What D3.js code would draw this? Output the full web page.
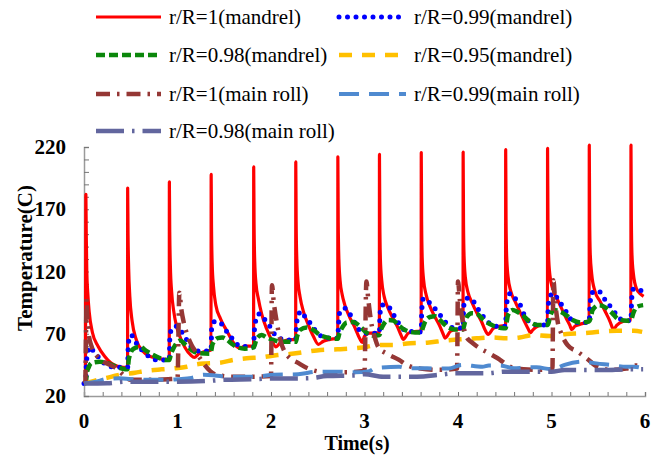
<!DOCTYPE html>
<html>
<head>
<meta charset="utf-8">
<script src="https://cdn.jsdelivr.net/npm/d3@7/dist/d3.min.js"></script>
<style>
  html, body { margin: 0; padding: 0; background: #fff; }
  svg { display: block; }
  text { font-family: "Liberation Serif", "Times New Roman", serif; fill: #000; }
</style>
</head>
<body>
<svg id="chart" width="661" height="459"></svg>
<script>
// Surface temperature histories (time in s, temperature in C)
const mandrel100 = [
  [0,30],[0.015,32],
  [0.02,182],[0.024,150],[0.03,120],[0.04,103],[0.055,88],[0.09,71],[0.15,60],[0.22,52],[0.29,46.5],[0.35,44],[0.42,43],[0.466,43],
  [0.467,187],[0.471,150],[0.478,122],[0.49,100],[0.515,80],[0.56,65],[0.63,56],[0.7,52],[0.78,50.5],[0.86,49.5],[0.912,49.5],
  [0.913,192],[0.917,152],[0.924,124],[0.937,104],[0.96,88],[0.99,76],[1.03,67],[1.08,59],[1.14,53],[1.18,51],[1.23,54],[1.3,56],[1.359,57],
  [1.36,198],[1.364,155],[1.371,126],[1.385,108],[1.41,93],[1.46,82],[1.53,72],[1.58,65],[1.63,60],[1.67,58.5],[1.72,60],[1.814,60],
  [1.815,204],[1.819,158],[1.826,128],[1.84,110],[1.865,98],[1.9,86],[1.953,74],[2.007,65],[2.053,59.5],[2.096,62.5],[2.17,65],[2.264,65.5],
  [2.265,208],[2.269,160],[2.276,130],[2.29,111],[2.31,100],[2.346,88],[2.4,77],[2.453,68],[2.507,61.5],[2.56,64],[2.632,65.5],[2.714,66.5],
  [2.715,212],[2.719,160],[2.726,130],[2.74,112],[2.76,102],[2.79,93],[2.843,83],[2.897,75],[2.95,66],[2.975,63],[3.0,68],[3.05,70.5],[3.159,71],
  [3.16,214],[3.164,160],[3.17,130],[3.184,113],[3.21,100],[3.25,91],[3.3,83],[3.35,76],[3.39,69],[3.415,65.5],[3.469,70.5],[3.56,72],[3.606,72],
  [3.607,215.5],[3.611,160],[3.617,131],[3.631,114],[3.66,101],[3.7,92],[3.75,84],[3.8,77],[3.84,70],[3.862,66.5],[3.92,72],[3.98,73.5],[4.054,74],
  [4.055,216],[4.059,160],[4.065,132],[4.079,115],[4.108,103],[4.15,95],[4.2,87],[4.25,80],[4.29,73],[4.322,69.5],[4.38,74.5],[4.44,76],[4.509,76.5],
  [4.51,218],[4.514,162],[4.52,133],[4.535,116],[4.565,104],[4.61,96],[4.66,88],[4.71,80],[4.75,74],[4.775,70.8],[4.8,73],[4.85,76],[4.957,78],
  [4.958,219],[4.962,162],[4.968,134],[4.983,117],[5.013,106],[5.06,98],[5.11,90],[5.16,82],[5.195,77],[5.216,73.5],[5.25,76],[5.3,77.5],[5.403,80],
  [5.404,221.5],[5.408,163],[5.414,135],[5.43,118],[5.465,104],[5.52,96],[5.58,87],[5.625,80],[5.645,76],[5.662,73.5],[5.7,77],[5.77,80],[5.849,81],
  [5.85,221.5],[5.854,163],[5.86,135],[5.876,118],[5.91,106],[5.95,102],[5.985,100]
];
const mandrel099 = [
  [0,30],[0.02,32],[0.025,45],[0.035,53],[0.05,58],[0.07,59.5],[0.1,56],[0.13,53.5],[0.2,47.5],[0.28,43.5],[0.4,43],[0.467,43],
  [0.472,58],[0.485,67],[0.5,69],[0.53,67],[0.56,62.5],[0.63,56],[0.7,51.5],[0.78,49],[0.9,49],[0.913,49],
  [0.918,67],[0.94,74.5],[0.99,76],[1.04,72],[1.08,67.5],[1.13,61],[1.18,57],[1.25,56],[1.36,56.5],
  [1.365,74],[1.4,80],[1.455,79],[1.5,74.5],[1.545,70],[1.6,65],[1.67,60],[1.815,59.5],
  [1.82,70],[1.83,77],[1.847,84],[1.88,86],[1.934,81.5],[1.98,77],[2.02,71.5],[2.08,67],[2.17,65],[2.265,65],
  [2.27,72],[2.275,78],[2.29,85],[2.326,88],[2.36,84],[2.41,79.5],[2.46,74],[2.52,69],[2.6,66.5],[2.715,66.5],
  [2.72,74],[2.737,88],[2.79,90.5],[2.843,86],[2.88,81],[2.914,76],[2.96,72],[3.0,70.5],[3.16,70.5],
  [3.165,85],[3.184,93],[3.24,93],[3.291,88],[3.344,81],[3.398,75],[3.45,72],[3.607,71.5],
  [3.612,88],[3.63,98.5],[3.66,97.5],[3.7,94.5],[3.75,90.5],[3.81,85],[3.87,79],[3.93,75],[4.055,74.5],
  [4.06,91.5],[4.09,98.5],[4.13,98.5],[4.18,94.5],[4.23,88],[4.29,82],[4.35,77.5],[4.4,76],[4.51,76],
  [4.515,88],[4.525,96],[4.56,102.5],[4.61,98.5],[4.66,94],[4.71,85],[4.79,78],[4.85,77],[4.958,77],
  [4.963,88],[4.977,98.5],[5.02,102.5],[5.07,97.5],[5.125,91.5],[5.18,85],[5.24,79],[5.404,79],
  [5.41,90],[5.43,102.5],[5.48,104.5],[5.535,102.5],[5.58,96],[5.63,92],[5.7,85],[5.77,80.5],[5.85,80.5],
  [5.857,97],[5.875,106],[5.93,106],[5.98,102.5]
];
const mandrel098 = [
  [0,30],[0.02,31],[0.03,38],[0.05,43],[0.08,46.5],[0.17,47.5],[0.25,46.5],[0.33,44],[0.44,41.5],[0.467,41.5],
  [0.48,50],[0.53,58],[0.6,59.5],[0.67,56],[0.78,51.5],[0.885,49],[0.913,49],
  [0.93,54],[0.955,58],[1.0,63.5],[1.03,64.5],[1.08,61.5],[1.14,57.5],[1.22,54.5],[1.35,54],
  [1.377,62],[1.43,66.5],[1.48,67],[1.533,65],[1.58,62],[1.63,59.5],[1.72,58],[1.815,59],
  [1.847,66],[1.9,69],[1.953,67],[2.025,65],[2.114,63.5],[2.265,63.5],
  [2.28,68],[2.31,73],[2.382,75],[2.453,73],[2.524,69],[2.632,66.5],[2.715,66],
  [2.73,70],[2.755,74],[2.81,79],[2.88,79.5],[2.95,76],[3.02,71],[3.095,68.5],[3.16,69],
  [3.18,74],[3.2,77],[3.255,81],[3.309,80.5],[3.362,77],[3.433,73],[3.54,71],[3.607,71],
  [3.625,75],[3.647,79.5],[3.7,83.5],[3.754,84],[3.807,81],[3.878,76],[3.968,73.5],[4.055,73.5],
  [4.07,78],[4.094,83.5],[4.148,86.5],[4.201,86],[4.273,81],[4.362,77],[4.487,74.5],[4.51,74.5],
  [4.52,79],[4.535,85],[4.584,89],[4.637,87.5],[4.69,85],[4.762,80],[4.851,77],[4.958,77],
  [4.97,79],[4.985,84],[5.03,89],[5.1,87.5],[5.155,85],[5.226,81],[5.315,79],[5.404,80],
  [5.42,83],[5.44,89],[5.51,93],[5.58,91],[5.65,86.5],[5.72,81.5],[5.81,80.5],[5.85,81],
  [5.875,86.5],[5.91,91.5],[5.98,93]
];
const mandrel095 = [
  [0,30],[0.1,32],[0.225,34.2],[0.385,37],[0.545,38.7],[0.67,40.3],[0.83,41.4],[0.97,42.2],[1.1,43.5],[1.2,45.4],
  [1.3,46.2],[1.45,46.7],[1.6,49],[1.74,50.3],[1.89,51],[2.07,52.9],[2.2,53.7],[2.38,55.6],[2.53,57],[2.71,57.5],
  [2.89,58.3],[3.03,59.6],[3.13,61],[3.3,61],[3.49,62.3],[3.67,62.8],[3.85,64.4],[4.02,65.5],[4.2,66.3],[4.38,67],
  [4.52,66.3],[4.66,67],[4.8,69],[4.98,68.2],[5.16,69.8],[5.34,70.4],[5.52,71.6],[5.7,72.4],[5.88,72.4],[5.97,71.5]
];
const roll100 = [
  [0,30],[0.015,32],[0.02,60],[0.028,98],[0.035,85],[0.05,70],[0.08,60],[0.13,53],[0.2,48],[0.28,45],[0.35,42],[0.42,37],[0.5,33],[0.7,33],[0.9,33.5],[1.0,34],
  [1.02,103],[1.04,90],[1.07,78],[1.11,68],[1.15,61],[1.2,55],[1.28,46],[1.35,40],[1.42,37],[1.6,35.5],[1.8,35.5],[2.0,36],
  [2.01,109],[2.03,95],[2.06,80],[2.1,65],[2.15,55],[2.2,50.5],[2.28,47],[2.4,42],[2.6,39],[2.8,39],[3.0,40],
  [3.02,112],[3.04,98],[3.07,80],[3.11,67],[3.15,59],[3.24,54],[3.37,49],[3.45,45],[3.6,42],[3.8,41],[3.99,42],
  [4.0,112],[4.02,97],[4.05,80],[4.09,67.5],[4.15,63],[4.2,60],[4.34,54],[4.42,50.5],[4.56,43.5],[4.7,41.5],[4.9,41],[5.01,42],
  [5.02,113],[5.04,95],[5.07,78],[5.1,71],[5.17,61],[5.28,55.5],[5.38,50],[5.49,43.5],[5.63,41],[5.8,42],[5.9,44.5],[5.98,44]
];
const roll099 = [
  [0,30],[0.1,31],[0.27,34],[0.38,34.2],[0.5,33.5],[0.7,33],[0.9,33],[1.0,33.5],[1.15,34.5],[1.28,37],[1.4,36.5],[1.54,35.5],
  [1.62,35.5],[1.8,35.5],[2.03,37],[2.29,37.5],[2.5,39.5],[2.72,39.5],[2.9,39],[3.05,40],[3.12,42.5],[3.37,43.5],[3.46,42.2],
  [3.67,42.2],[3.9,42],[4.04,45],[4.26,43.5],[4.33,44.5],[4.45,44.5],[4.6,42.2],[4.73,43],[4.84,43],[5.01,41.4],[5.14,45],
  [5.34,47.6],[5.48,46.2],[5.63,45],[5.8,43.5],[5.88,43.5],[5.98,42.2]
];
const roll098 = [
  [0,30],[0.25,30.2],[0.45,31.5],[0.8,31.5],[1.0,31.5],[1.3,32],[1.5,33],[1.8,33.5],[2.0,34],[2.39,34.2],[2.6,36],[2.9,36.5],
  [3.0,37.5],[3.2,35.5],[3.56,35.5],[3.8,37],[3.96,38.2],[4.31,38.2],[4.5,39.5],[4.84,39.5],[5.0,39.5],[5.14,40.9],[5.57,40.9],
  [5.8,41.4],[5.98,41.4]
];

const seriesNames = [
  "r/R=1(mandrel)", "r/R=0.99(mandrel)", "r/R=0.98(mandrel)", "r/R=0.95(mandrel)",
  "r/R=1(main roll)", "r/R=0.99(main roll)", "r/R=0.98(main roll)"
];
const xTickLabels = ["0", "1", "2", "3", "4", "5", "6"];
const yTickLabels = ["20", "70", "120", "170", "220"];
const xTitle = "Time(s)";
const yTitle = "Temperature(C)";

// Line styles per series
const styles = [
  { data: mandrel100, color: "#ff0000", width: 3.2, dash: null, cap: "butt" },
  { data: mandrel099, color: "#0000ff", width: 5, dash: "0 8.5", cap: "round" },
  { data: mandrel098, color: "#0b870b", width: 4.5, dash: "9 4", cap: "butt" },
  { data: mandrel095, color: "#ffc000", width: 4.5, dash: "13 10", cap: "butt" },
  { data: roll100, color: "#953735", width: 4.5, dash: "14 7 2.5 7", cap: "butt" },
  { data: roll099, color: "#4f8ad0", width: 4, dash: "20 10", cap: "butt" },
  { data: roll098, color: "#62669e", width: 4.5, dash: "28 8 2.5 8", cap: "butt" }
];

const svg = d3.select("#chart");
const x = d3.scaleLinear().domain([0, 6]).range([84, 645]);
const y = d3.scaleLinear().domain([20, 220]).range([396, 147]);

// Axes with inward ticks
const axisColor = "#9a9a9a";
const xAxis = svg.append("g").attr("transform", `translate(0,${y(20)})`)
  .call(d3.axisBottom(x).tickValues(d3.range(0, 31).map(i => i * 0.2)).tickSize(-4).tickFormat(""));
const yAxis = svg.append("g").attr("transform", `translate(${x(0)},0)`)
  .call(d3.axisLeft(y).tickValues(d3.range(0, 21).map(i => 20 + i * 10)).tickSize(-5).tickFormat(""));
[xAxis, yAxis].forEach(g => {
  g.select(".domain").attr("stroke", axisColor).attr("stroke-width", 1.5);
  g.selectAll(".tick line").attr("stroke", "#777").attr("stroke-width", 1);
});

// Tick labels
svg.append("g").selectAll("text").data(xTickLabels).join("text")
  .attr("x", d => x(+d)).attr("y", 428)
  .attr("text-anchor", "middle").attr("font-size", 21).attr("font-weight", "bold")
  .text(d => d);
svg.append("g").selectAll("text").data(yTickLabels).join("text")
  .attr("x", 66).attr("y", d => y(+d) + 7)
  .attr("text-anchor", "end").attr("font-size", 21).attr("font-weight", "bold")
  .text(d => d);

// Axis titles
svg.append("text").attr("x", 357).attr("y", 450)
  .attr("text-anchor", "middle").attr("font-size", 20).attr("font-weight", "bold").text(xTitle);
svg.append("text").attr("transform", "translate(32,258) rotate(-90)")
  .attr("text-anchor", "middle").attr("font-size", 21).attr("font-weight", "bold").text(yTitle);

// Series
const line = d3.line().x(d => x(d[0])).y(d => y(d[1])).curve(d3.curveMonotoneX);
svg.append("g").selectAll("path").data(styles).join("path")
  .attr("d", s => line(s.data))
  .attr("fill", "none")
  .attr("stroke", s => s.color)
  .attr("stroke-width", s => s.width)
  .attr("stroke-dasharray", s => s.dash)
  .attr("stroke-linecap", s => s.cap)
  .attr("stroke-linejoin", "round");

// Legend: two columns, four rows
const legendRows = [17, 55, 94, 131];
const legendCols = [{ x0: 96, x1: 161, tx: 169 }, { x0: 339, x1: 406, tx: 414 }];
const legend = svg.append("g").selectAll("g").data(styles).join("g")
  .attr("transform", (s, i) => `translate(0,${legendRows[Math.floor(i / 2)]})`);
legend.append("line")
  .attr("x1", (s, i) => legendCols[i % 2].x0).attr("x2", (s, i) => legendCols[i % 2].x1)
  .attr("y1", 0).attr("y2", 0)
  .attr("stroke", s => s.color).attr("stroke-width", s => s.width)
  .attr("stroke-dasharray", s => s.dash).attr("stroke-linecap", s => s.cap);
legend.append("text")
  .attr("x", (s, i) => legendCols[i % 2].tx).attr("y", 7)
  .attr("font-size", 21)
  .text((s, i) => seriesNames[i]);
</script>
</body>
</html>
